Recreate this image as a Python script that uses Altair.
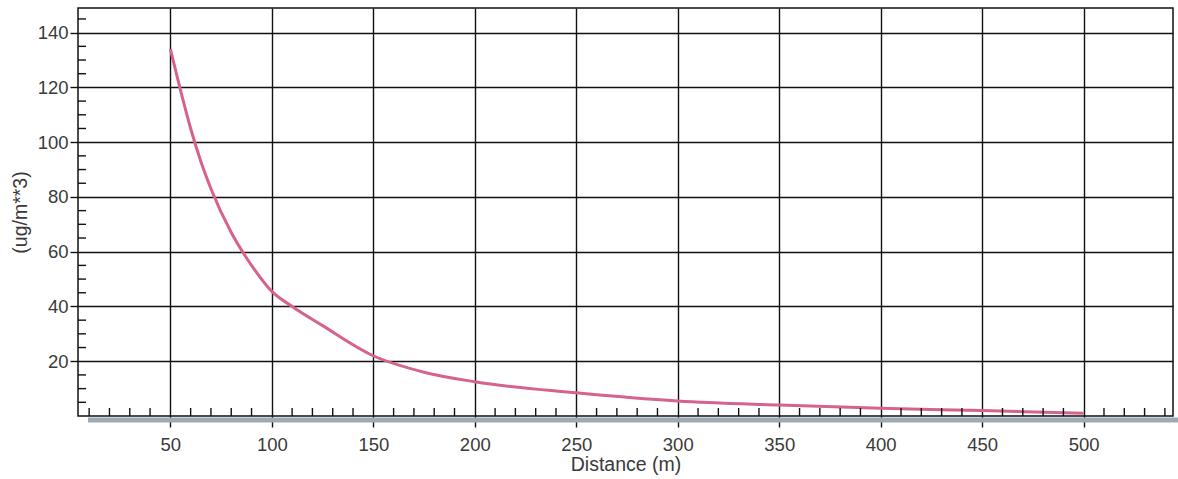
import altair as alt
import pandas as pd

# Curve values
distance = [50, 55, 60, 65, 70, 80, 90, 100, 110, 125, 150, 175, 200, 250, 300, 350, 400, 450, 500]
conc = [134, 119, 105, 93, 83, 67, 55, 45.5, 40, 33, 22, 16, 12.5, 8.5, 5.5, 4, 2.8, 2, 1]

x_major = [50, 100, 150, 200, 250, 300, 350, 400, 450, 500]
x_minor = [v for v in range(10, 541, 10) if v % 50 != 0]
y_major = [20, 40, 60, 80, 100, 120, 140]
y_minor = [v for v in range(5, 146, 5) if v % 20 != 0]

X_DOMAIN = [4.5, 544]
Y_DOMAIN = [0, 149]
PW, PH = 1095, 408

df = pd.DataFrame({"d": distance, "c": conc})
xs = alt.Scale(domain=X_DOMAIN, nice=False, zero=False)
ys = alt.Scale(domain=Y_DOMAIN, nice=False, zero=False)

common = dict(grid=True, gridColor="#111", gridWidth=1.4,
              tickColor="#111", tickWidth=1.4, domain=False,
              labelFont="Liberation Sans", labelFontSize=18.5, labelColor="#3a3a3a",
              titleFont="Liberation Sans", titleFontSize=19.5, titleColor="#3a3a3a",
              titleFontWeight="normal")
x_axis = alt.Axis(values=x_major, tickSize=11, labelPadding=8,
                  titlePadding=2, labelFlush=False, **common)
y_axis = alt.Axis(values=y_major, tickSize=8, labelPadding=2,
                  titlePadding=7, **common)

line = alt.Chart(df).mark_line(
    color="#d6628f", strokeWidth=3, interpolate="monotone"
).encode(
    x=alt.X("d:Q", scale=xs, title="Distance (m)", axis=x_axis),
    y=alt.Y("c:Q", scale=ys, title="(ug/m**3)", axis=y_axis),
)

band = alt.Chart(pd.DataFrame({"a": [0]})).mark_rule(
    color="#9fa9b4", strokeWidth=5
).encode(x=alt.value(10), x2=alt.value(PW + 5), y=alt.value(PH + 4))

ymin_df = pd.DataFrame({"v": y_minor})
ymin = alt.Chart(ymin_df).mark_rule(color="#111", strokeWidth=1.4).encode(
    y=alt.Y("v:Q", scale=ys, title="(ug/m**3)", axis=y_axis),
    x=alt.value(0), x2=alt.value(8),
)

xmin_df = pd.DataFrame({"v": x_minor})
xmin = alt.Chart(xmin_df).mark_rule(color="#111", strokeWidth=1.4).encode(
    x=alt.X("v:Q", scale=xs, title="Distance (m)", axis=x_axis),
    y=alt.value(PH), y2=alt.value(PH - 8),
)

chart = alt.layer(line, band, ymin, xmin).properties(
    width=PW, height=PH,
    autosize=alt.AutoSizeParams(type="none"),
    padding={"left": 78, "top": 8, "right": 5, "bottom": 63},
    background="white",
).configure_view(
    stroke="#111", strokeWidth=1.5
)

chart.save("out.html", embed_options={"renderer": "svg", "actions": False})
